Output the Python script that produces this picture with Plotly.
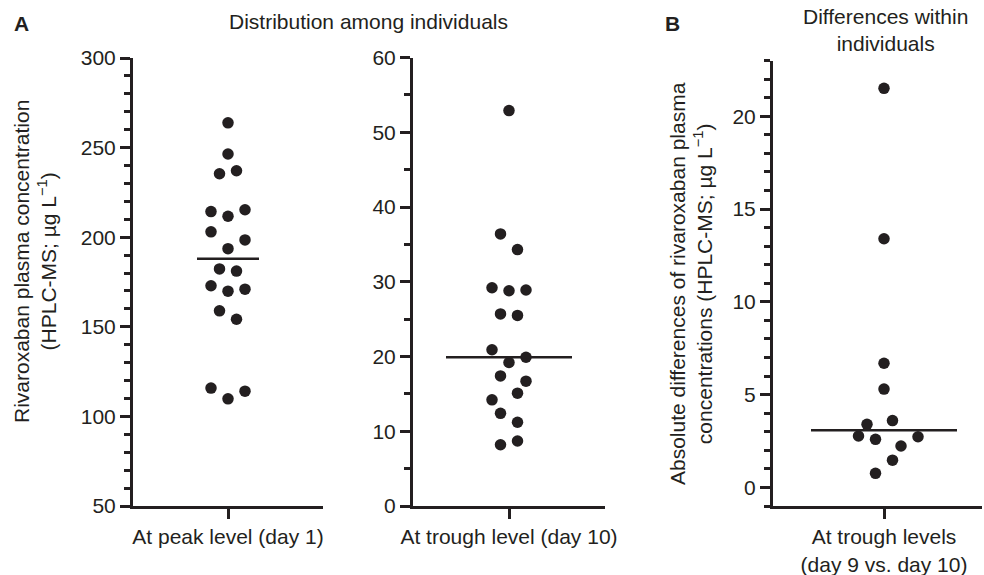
import numpy as np
import plotly.graph_objects as go

# ---------------- data ----------------
peak_values = [263.8, 246.4, 235.4, 237.1, 214.3, 211.7, 215.3, 203.0, 198.5, 193.6,
               182.3, 181.1, 172.9, 169.9, 171.0, 158.9, 154.2, 115.8, 109.8, 114.1]
trough_values = [52.9, 36.4, 34.3, 29.2, 28.8, 28.9, 25.7, 25.5, 20.9, 19.9,
                 19.2, 17.4, 16.7, 15.1, 14.2, 12.4, 11.2, 8.2, 8.7]
diff_values = [21.5, 13.4, 6.69, 5.30, 3.60, 3.40, 2.77, 2.73, 2.59, 2.23, 1.47, 0.76]

category_labels = ["At peak level (day 1)", "At trough level (day 10)",
                   "At trough levels<br>(day 9 vs. day 10)"]

# ---------------- layout (dot-plot lanes as in the reference) ----------------
peak_lanes = [0, 0, -1, 1, -2, 0, 2, -2, 2, 0, -1, 1, -2, 0, 2, -1, 1, -2, 0, 2]
trough_lanes = [0, -1, 1, -2, 0, 2, -1, 1, -2, 2, 0, -1, 2, 1, -2, -1, 1, -1, 1]
diff_lanes = [0, 0, 0, 0, 1, -2, -3, 4, -1, 2, 1, -1]
LANE = 8.5  # px per lane

W, H = 984, 575
INK = "#231f20"
FONT = "Liberation Sans, Arial, Helvetica, sans-serif"
FS = 21

def px_x(p):
    return p / W

def px_y(p):
    return 1 - p / H

fig = go.Figure()

panels = [
    (peak_values, peak_lanes, "x", "y", 31),
    (trough_values, trough_lanes, "x2", "y2", 63),
    (diff_values, diff_lanes, "x3", "y3", 73),
]

for vals, lanes, xa, ya, hw in panels:
    xs = [l * LANE for l in lanes]
    fig.add_trace(go.Scatter(x=xs, y=vals, mode="markers", xaxis=xa, yaxis=ya,
                             marker=dict(size=11.5, color=INK, line=dict(width=0)),
                             showlegend=False, hoverinfo="y", cliponaxis=False))
    med = float(np.median(vals))
    fig.add_trace(go.Scatter(x=[-hw, hw], y=[med, med], mode="lines", xaxis=xa, yaxis=ya,
                             line=dict(color=INK, width=2.5), showlegend=False,
                             hoverinfo="skip"))

axis_common = dict(showline=True, linecolor=INK, linewidth=3, mirror=False,
                   showgrid=False, zeroline=False, ticks="outside", tickcolor=INK,
                   tickwidth=2.5, ticklen=10, automargin=False,
                   tickfont=dict(family=FONT, size=FS, color=INK))

def xaxis(dom, rng, label, anchor):
    return dict(axis_common, domain=[px_x(dom[0]), px_x(dom[1])], range=rng,
                tickmode="array", tickvals=[0], ticktext=[label], anchor=anchor,
                fixedrange=True)

def yaxis(dom, rng, dtick, tick0, minor_dtick, anchor, tickvals=None):
    d = dict(axis_common, domain=[px_y(dom[1]), px_y(dom[0])], range=rng,
             anchor=anchor, fixedrange=True,
             minor=dict(ticks="outside", ticklen=6, tickwidth=2.5, tickcolor=INK,
                        dtick=minor_dtick, tick0=0, showgrid=False))
    if tickvals is not None:
        d.update(tickmode="array", tickvals=tickvals)
    else:
        d.update(dtick=dtick, tick0=tick0)
    return d

fig.update_layout(
    template="none",
    width=W, height=H, margin=dict(l=0, r=0, t=0, b=0, autoexpand=False),
    paper_bgcolor="white", plot_bgcolor="white",
    font=dict(family=FONT, size=FS, color=INK),
    xaxis=xaxis((133, 323), [-95, 95], category_labels[0], "y"),
    xaxis2=xaxis((413, 605), [-96, 96], category_labels[1], "y2"),
    xaxis3=xaxis((773, 982), [-111, 98], category_labels[2], "y3"),
    yaxis=yaxis((58, 506), [50, 300], 50, 50, 10, "x"),
    yaxis2=yaxis((57.5, 506), [0, 60], 10, 0, 5, "x2"),
    yaxis3=yaxis((60.5, 506), [-1, 23], None, None, 1, "x3", tickvals=[0, 5, 10, 15, 20]),
)

def ann(text, x, y, size=FS, bold=False, angle=0):
    if bold:
        text = "<b>" + text + "</b>"
    fig.add_annotation(text=text, x=px_x(x), y=px_y(y), xref="paper", yref="paper",
                       showarrow=False, textangle=angle, xanchor="center", yanchor="middle",
                       font=dict(family=FONT, size=size, color=INK))

ann("A", 21, 23, bold=True)
ann("B", 672, 23, bold=True)
ann("Distribution among individuals", 368, 22)
ann("Differences within<br>individuals", 885, 30)
ann("Rivaroxaban plasma concentration<br>(HPLC-MS; µg L<sup>−1</sup>)", 35, 262, angle=-90)
ann("Absolute differences of rivaroxaban plasma<br>concentrations (HPLC-MS; µg L<sup>−1</sup>)",
    691, 284, angle=-90)

fig.write_html("out.html", config={"displayModeBar": False},
               post_script="document.body.style.margin='0';document.body.style.padding='0';")
